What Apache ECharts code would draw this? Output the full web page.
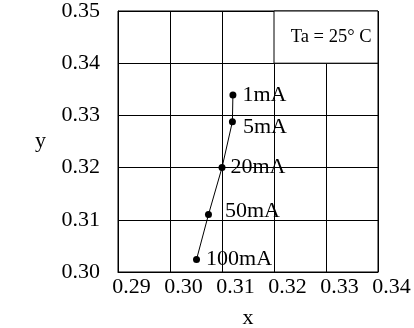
<!DOCTYPE html>
<html>
<head>
<meta charset="UTF-8">
<title>Chromaticity vs current</title>
<script src="https://cdn.jsdelivr.net/npm/echarts@6/dist/echarts.min.js"></script>
<style>
html, body { margin: 0; padding: 0; background: #fff; }
#chart { width: 414px; height: 328px; }
</style>
</head>
<body>
<div id="chart"></div>
<script>
// data
const currents = ['1mA', '5mA', '20mA', '50mA', '100mA'];
const xValues = [0.3121, 0.3120, 0.3100, 0.3074, 0.3051];
const yValues = [0.3339, 0.3288, 0.3200, 0.3110, 0.3024];
const xTicks = ['0.29', '0.30', '0.31', '0.32', '0.33', '0.34'];
const yTicks = ['0.30', '0.31', '0.32', '0.33', '0.34', '0.35'];
const noteText = 'Ta = 25° C';

const font = "'Liberation Serif', 'Times New Roman', serif";

// small per-label nudges so text sits like the original
const labelNudge = { '5mA': [1, 6], '50mA': [7, -3], '20mA': [-1, 0] };

const points = currents.map(function (c, i) {
  const item = { name: c, value: [xValues[i], yValues[i]] };
  if (labelNudge[c]) item.label = { offset: labelNudge[c] };
  return item;
});

const chart = echarts.init(document.getElementById('chart'), null, { renderer: 'canvas' });
chart.setOption({
  backgroundColor: '#fff',
  animation: false,
  grid: {
    left: 118, right: 36, top: 11, bottom: 56,
    outerBoundsMode: 'none', containLabel: false,
    show: true, borderColor: '#000', borderWidth: 1
  },
  xAxis: {
    type: 'value', min: 0.29, max: 0.34, interval: 0.01,
    name: 'x', nameLocation: 'middle', nameGap: 35,
    nameTextStyle: { fontFamily: font, fontSize: 22, color: '#000' },
    axisLine: { show: true, lineStyle: { color: '#000' } },
    axisTick: { show: false },
    splitLine: { show: true, lineStyle: { color: '#000', width: 1 } },
    axisLabel: {
      fontFamily: font, fontSize: 22, color: '#000', margin: 4,
      padding: [0, 0, 0, 27],
      formatter: function (v) { return xTicks[Math.round((v - 0.29) * 100)]; }
    }
  },
  yAxis: {
    type: 'value', min: 0.30, max: 0.35, interval: 0.01,
    name: 'y', nameLocation: 'middle', nameGap: 72, nameRotate: 0,
    nameTextStyle: { fontFamily: font, fontSize: 22, color: '#000' },
    axisLine: { show: true, lineStyle: { color: '#000' } },
    axisTick: { show: false },
    splitLine: { show: true, lineStyle: { color: '#000', width: 1 } },
    axisLabel: {
      fontFamily: font, fontSize: 22, color: '#000', margin: 18,
      formatter: function (v) { return yTicks[Math.round((v - 0.30) * 100)]; }
    }
  },
  series: [{
    type: 'line',
    data: points,
    symbol: 'circle',
    symbolSize: 7,
    itemStyle: { color: '#000' },
    lineStyle: { color: '#000', width: 1 },
    label: {
      show: true, position: 'right', distance: 6,
      fontFamily: font, fontSize: 22, color: '#000',
      formatter: '{b}'
    },
    markArea: {
      silent: true,
      itemStyle: { color: '#fff', borderColor: '#000', borderWidth: 1 },
      label: {
        show: true, position: 'insideRight', distance: 7,
        fontFamily: font, fontSize: 18.5, color: '#000'
      },
      data: [[{ name: noteText, coord: [0.32, 0.35] }, { coord: [0.34, 0.34] }]]
    }
  }]
});
</script>
</body>
</html>
